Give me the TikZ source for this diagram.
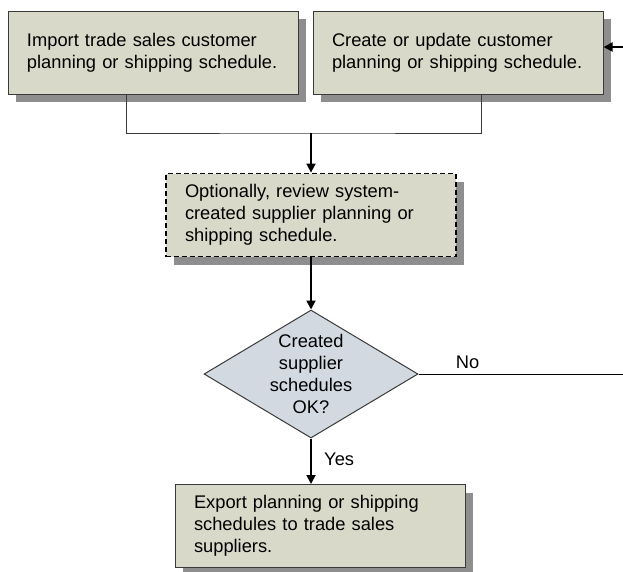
\documentclass[tikz,border=0pt]{standalone}
\usepackage{fontspec}
\setmainfont{Liberation Sans}
\usetikzlibrary{positioning,shapes.geometric,shadows,arrows.meta}
\definecolor{boxfill}{HTML}{D8D9C8}
\definecolor{decfill}{HTML}{D2D9E0}
\definecolor{shadowgray}{HTML}{8E8E8E}
\definecolor{edgegray}{HTML}{3A3A3A}

\begin{document}
\begin{tikzpicture}[x=1pt, y=-1pt,
  font=\fontsize{18.3}{22}\selectfont,
  task/.style={draw=edgegray, line width=1pt, fill=boxfill, align=left,
    text width=252pt, inner xsep=19pt, minimum height=83pt,
    drop shadow={shadow xshift=8pt, shadow yshift=-8pt, fill=shadowgray, opacity=1}},
  optional/.style={task, draw=black, line width=1.8pt, dash pattern=on 5pt off 3pt},
  decision/.style={diamond, draw=edgegray, line width=1pt, fill=decfill,
    minimum width=214pt, minimum height=128pt, inner sep=0pt},
  flow/.style={draw=black, line width=1.8pt, -{Triangle[length=9pt,width=9pt]}},
  link/.style={draw=edgegray, line width=1pt}]
  \useasboundingbox (0,0) rectangle (623,571);

  \node[task] (import) at (153,52.5) {Import trade sales customer\\planning or shipping schedule.};
  \node[task, right=14pt of import] (update) {Create or update customer\\planning or shipping schedule.};
  \node[optional] (review) at (311,215) {Optionally, review system-\\created supplier planning or\\shipping schedule.};
  \node[decision, label={[align=center]center:Created\\supplier\\schedules\\OK?}] (ok) at (311,374) {};
  \node[task] (export) at (320,526) {Export planning or shipping\\schedules to trade sales\\suppliers.};

  \coordinate (merge) at (311,133);
  \coordinate (back) at (623,47);
  \coordinate (noend) at (623,374);

  \draw[link] ([xshift=-27pt]import.south) |- (merge) -| ([xshift=23.5pt]update.south);
  \draw[flow] (merge) -- (review);
  \draw[flow] (back) -- (back -| update.east);
  \draw[flow] (review) -- (ok);
  \draw[flow] (ok.south) -- node[right=9pt, pos=0.45] {Yes} (ok.south |- export.north);
  \draw[line width=1pt] (ok.east) -- node[above=1pt, pos=0.24] {No} (noend);
\end{tikzpicture}
\end{document}
